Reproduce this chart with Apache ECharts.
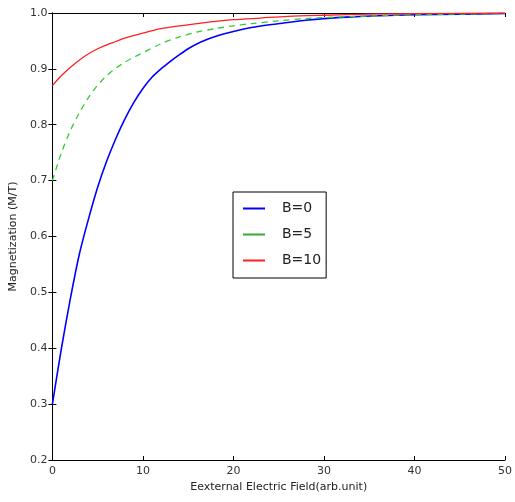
<!DOCTYPE html>
<html><head><meta charset="utf-8">
<script src="https://cdn.jsdelivr.net/npm/echarts@6/dist/echarts.min.js"></script>
<style>html,body{margin:0;padding:0;background:#fff}#c{width:515px;height:502px}</style>
</head><body><div id="c"></div>
<script>
const seriesNames = ['B=0', 'B=5', 'B=10'];
const xB0 = [0,1,2,3,4,5,6,7,8,9,10,11,12,13,14,15,16,17,18,19,20,22,24,26,28,30,33,36,40,45,50];
const yB0 = [0.30,0.40,0.49,0.57,0.632,0.688,0.735,0.775,0.81,0.84,0.865,0.885,0.90,0.913,0.925,0.936,0.945,0.952,0.958,0.963,0.967,0.974,0.979,0.983,0.987,0.990,0.993,0.995,0.997,0.998,0.999];
const xB5 = [0,1,2,3,4,5,6,7,8,9,10,12,14,16,18,20,22,25,28,32,36,40,50];
const yB5 = [0.70,0.75,0.79,0.822,0.849,0.871,0.888,0.901,0.912,0.921,0.929,0.945,0.957,0.966,0.972,0.977,0.981,0.986,0.990,0.993,0.995,0.997,0.999];
const xB10 = [0,1,2,3,4,5,6,7,8,10,12,14,16,18,20,23,26,30,35,40,50];
const yB10 = [0.87,0.888,0.903,0.916,0.927,0.936,0.943,0.949,0.955,0.964,0.972,0.977,0.981,0.985,0.988,0.991,0.994,0.996,0.998,0.999,1.0];
const xTicks = [0,10,20,30,40,50];
const yTicks = [0.2,0.3,0.4,0.5,0.6,0.7,0.8,0.9,1.0];

const pairs = (xs, ys) => xs.map((x, i) => [x, ys[i]]);
const font = 'DejaVu Sans';
const chart = echarts.init(document.getElementById('c'));
const axLine = {show: true, lineStyle: {color: '#000', width: 1}};
const tick = {show: true, inside: true, length: 4, lineStyle: {color: '#000'}};
chart.setOption({
  animation: false,
  grid: {left: 50, right: 6, top: 13, bottom: 42},
  xAxis: [{
    type: 'value', min: xTicks[0], max: xTicks[xTicks.length - 1], interval: 10, position: 'bottom',
    axisLine: axLine, axisTick: tick, splitLine: {show: false},
    axisLabel: {fontFamily: font, fontSize: 11, color: '#333', margin: 6},
    name: 'Eexternal Electric Field(arb.unit)', nameLocation: 'middle', nameGap: 21,
    nameTextStyle: {fontFamily: font, fontSize: 11, color: '#222'}
  }, {
    type: 'value', min: 0, max: 50, interval: 10, position: 'top',
    axisLine: axLine, axisTick: tick, splitLine: {show: false}, axisLabel: {show: false}
  }],
  yAxis: [{
    type: 'value', min: yTicks[0], max: yTicks[yTicks.length - 1], interval: 0.1, position: 'left',
    axisLine: axLine, axisTick: tick, splitLine: {show: false},
    axisLabel: {fontFamily: font, fontSize: 11, color: '#333', margin: 5, formatter: v => v.toFixed(1)},
    name: 'Magnetization (M/T)', nameLocation: 'middle', nameGap: 33,
    nameTextStyle: {fontFamily: font, fontSize: 11, color: '#222'}
  }, {
    type: 'value', min: 0.2, max: 1.0, interval: 0.1, position: 'right',
    axisLine: axLine, axisTick: tick, splitLine: {show: false}, axisLabel: {show: false}
  }],
  legend: {
    show: true,
    orient: 'vertical', left: 233, top: 192,
    backgroundColor: '#fff', borderColor: '#000', borderWidth: 1,
    padding: [9, 5, 10, 10], itemGap: 11, itemWidth: 22, itemHeight: 2,
    icon: 'rect',
    textStyle: {fontFamily: font, fontSize: 14, lineHeight: 15, color: '#222', padding: [0, 0, 0, 12]},
    data: seriesNames
  },
  series: [
    {name: seriesNames[0], type: 'line', data: pairs(xB0, yB0), symbol: 'none', smooth: 0.3,
     lineStyle: {color: '#0000ff', width: 1.6}, itemStyle: {color: '#0000ff'}},
    {name: seriesNames[1], type: 'line', data: pairs(xB5, yB5), symbol: 'none', smooth: 0.3,
     lineStyle: {color: '#33cc33', width: 1.3, type: [6, 5]}, itemStyle: {color: '#33aa33'}},
    {name: seriesNames[2], type: 'line', data: pairs(xB10, yB10), symbol: 'none', smooth: 0.3,
     lineStyle: {color: '#ff2020', width: 1.3}, itemStyle: {color: '#ff2020'}}
  ]
});
</script></body></html>
